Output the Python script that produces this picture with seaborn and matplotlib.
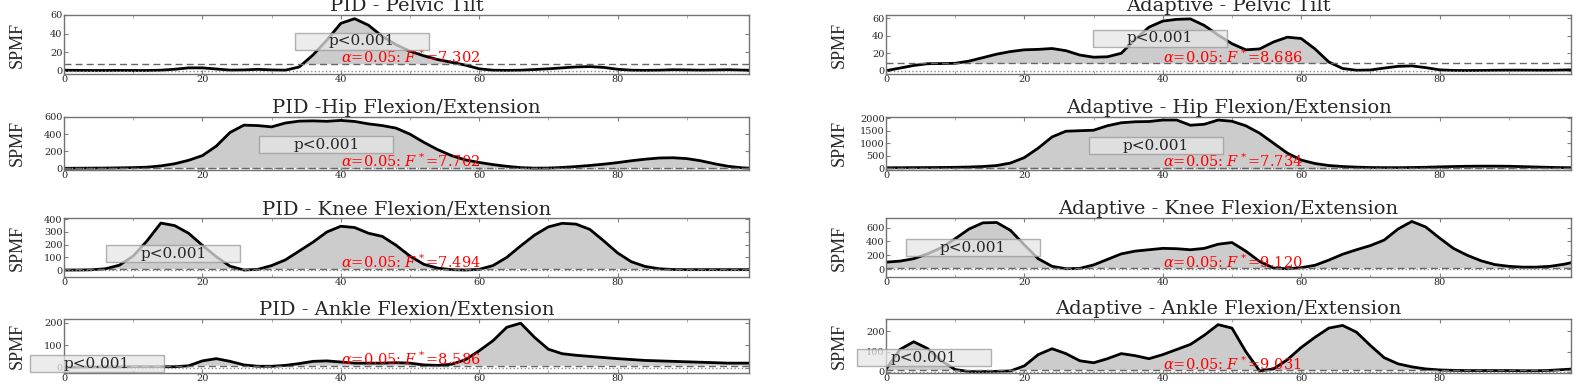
import numpy as np
import matplotlib
matplotlib.use("Agg")
import matplotlib.pyplot as plt
from matplotlib.patches import Rectangle
from matplotlib.transforms import ScaledTranslation
import seaborn as sns

# time axis (% gait cycle)
time = np.append(np.arange(0, 100, 2), 99)

# SPM{F} curves, PID controller
pid_pelvis = [0.5, 0.3, 0.2, 0.2, 0.3, 0.2, 0.2, 0.5, 1.5, 3.0, 3.0, 1.8, 0.6, 0.8, 1.4, 0.8, 0.5,
              4, 17, 33, 51, 56, 49, 37, 28, 21, 16, 12, 9, 6, 2, 0.5, 0.3, 0.5, 1.2, 2, 3, 4, 4.4,
              3.5, 1.5, 0.5, 0.3, 0.5, 1, 0.8, 0.5, 0.7, 1, 0.6, 0.5]
pid_hip = [2, 3, 4, 5, 7, 10, 15, 30, 55, 95, 150, 260, 420, 505, 500, 485, 530, 552, 555, 550,
           560, 548, 520, 500, 470, 400, 305, 220, 150, 100, 70, 45, 25, 10, 4, 5, 12, 22, 35, 50,
           68, 90, 108, 122, 125, 115, 90, 55, 25, 8, 4]
pid_knee = [0, 0, 2, 10, 38, 110, 230, 370, 350, 290, 195, 105, 30, 0, 5, 35, 80, 150, 220, 300,
            345, 335, 290, 265, 195, 110, 45, 15, 3, 0, 5, 35, 100, 190, 275, 340, 368, 362, 320,
            230, 135, 65, 28, 10, 4, 3, 3, 3, 3, 3, 3]
pid_ankle = [0, 2, 3, 3, 3, 4, 4, 4, 4, 8, 30, 40, 28, 12, 6, 6, 10, 18, 28, 30, 25, 20, 20, 20,
             22, 20, 12, 10, 15, 35, 75, 120, 180, 198, 135, 82, 62, 55, 50, 45, 40, 36, 32, 30,
             28, 26, 24, 22, 20, 20, 20]

# SPM{F} curves, adaptive controller
adaptive_pelvis = [0, 3, 6, 8, 8.2, 8.5, 11, 15, 19, 22, 24, 24.5, 25.5, 23, 18, 15.5, 16, 20, 36,
                   50, 57, 59, 59.5, 52, 41, 31, 24, 25, 33, 38.5, 37, 25, 10, 2.5, 0.5, 0.8, 3, 5,
                   5.5, 3.5, 1, 0.3, 0.2, 0.3, 0.5, 0.6, 0.6, 0.5, 0.5, 0.8, 1]
adaptive_hip = [10, 12, 15, 18, 22, 28, 40, 60, 100, 200, 420, 800, 1250, 1480, 1500, 1520, 1700,
                1820, 1860, 1870, 1930, 1930, 1720, 1760, 1930, 1880, 1700, 1400, 1000, 600, 320,
                180, 100, 60, 35, 20, 15, 15, 20, 30, 45, 60, 70, 75, 75, 70, 55, 40, 25, 15, 12]
adaptive_knee = [100, 115, 150, 220, 310, 440, 580, 670, 675, 560, 350, 150, 40, 5, 10, 60, 140,
                 220, 260, 280, 300, 295, 280, 300, 360, 385, 260, 110, 15, 5, 20, 55, 130, 215,
                 280, 340, 420, 580, 690, 610, 450, 300, 200, 120, 65, 40, 28, 28, 40, 70, 92]
adaptive_ankle = [13, 110, 148, 115, 55, 12, 2, 2, 3, 5, 30, 85, 114, 90, 55, 45, 65, 90, 80, 65,
                  85, 110, 135, 180, 232, 215, 100, 5, 15, 60, 120, 170, 215, 228, 195, 130, 70,
                  40, 25, 15, 10, 8, 7, 7, 7, 7, 6, 6, 8, 12, 14]

pid_curves = [pid_pelvis, pid_hip, pid_knee, pid_ankle]
adaptive_curves = [adaptive_pelvis, adaptive_hip, adaptive_knee, adaptive_ankle]

# critical thresholds F*
pid_thresholds = [7.302, 7.702, 7.494, 8.586]
adaptive_thresholds = [8.686, 7.734, 9.120, 9.031]

pid_titles = ["PID - Pelvic Tilt", "PID -Hip Flexion/Extension",
              "PID - Knee Flexion/Extension", "PID - Ankle Flexion/Extension"]
adaptive_titles = ["Adaptive - Pelvic Tilt", "Adaptive - Hip Flexion/Extension",
                   "Adaptive - Knee Flexion/Extension", "Adaptive - Ankle Flexion/Extension"]

pid_pvalues = ["p<0.001", "p<0.001", "p<0.001", "p<0.001"]
adaptive_pvalues = ["p<0.001", "p<0.001", "p<0.001", "p<0.001"]

# layout / cosmetic settings
pid_ylims = [(-3.6, 60), (-12, 600), (-55, 410), (-24, 219)]
adaptive_ylims = [(-3.8, 64), (-60, 2052), (-115, 740), (-5, 262)]
pid_yticks = [[0, 20, 40, 60], [0, 200, 400, 600], [0, 100, 200, 300, 400], [0, 100, 200]]
adaptive_yticks = [[0, 20, 40, 60], [0, 500, 1000, 1500, 2000], [0, 200, 400, 600], [0, 100, 200]]
pid_pbox = [(43, 31.5), (37.9, 275), (15.8, 129), (4.7, 17)]
adaptive_pbox = [(39.6, 37.5), (39, 900), (12.6, 307), (5.5, 69)]

sns.set_style("ticks")
plt.rcParams["font.family"] = ["DejaVu Serif"]
plt.rcParams["mathtext.fontset"] = "dejavuserif"

W, H = 1578, 387
fig = plt.figure(figsize=(W / 100, H / 100), dpi=100)

rows_px = [(15, 74), (117, 169.5), (218, 277), (318.5, 373)]
cols_px = [(64, 749), (886, 1571)]

columns = [
    (pid_curves, pid_thresholds, pid_titles, pid_pvalues, pid_ylims, pid_yticks, pid_pbox),
    (adaptive_curves, adaptive_thresholds, adaptive_titles, adaptive_pvalues,
     adaptive_ylims, adaptive_yticks, adaptive_pbox),
]

for c, (curves, thrs, titles, pvals, ylims, yticks, pboxes) in enumerate(columns):
    x0, x1 = cols_px[c]
    for r in range(4):
        top, bottom = rows_px[r]
        ax = fig.add_axes([x0 / W, 1 - bottom / H, (x1 - x0) / W, (bottom - top) / H])
        y = np.array(curves[r], dtype=float)
        thr = thrs[r]

        ax.fill_between(time, y, thr, where=y > thr, interpolate=True, color="0.8", lw=0)
        sns.lineplot(x=time, y=y, ax=ax, color="k", lw=2)
        ax.axhline(0, color="0.55", ls=":", lw=1)
        ax.axhline(thr, color="0.4", ls="--", lw=1, dashes=(5, 3))

        ax.text(40, thr + 0.01 * (ylims[r][1] - ylims[r][0]),
                r"$\alpha$=0.05: $F^*$=%.3f" % thr, color="red", fontsize=10.5,
                va="baseline", ha="left")

        # p-value label with a wide light-grey box (box size in inches, anchored at the label)
        px, py = pboxes[r]
        anchor = fig.dpi_scale_trans + ScaledTranslation(px, py, ax.transData)
        ax.add_patch(Rectangle((-0.67, -0.085), 1.34, 0.17, transform=anchor, clip_on=False,
                               facecolor="0.9", edgecolor="0.6", lw=1, alpha=0.75, zorder=4))
        ax.text(px, py, pvals[r], fontsize=11, ha="center", va="center", clip_on=False,
                zorder=5)

        ax.set_xlim(0, 99)
        ax.set_ylim(*ylims[r])
        ax.set_xticks([0, 20, 40, 60, 80])
        ax.set_xticks([10, 30, 50, 70, 90], minor=True)
        ax.set_yticks(yticks[r])
        ax.tick_params(direction="in", top=True, right=True, labelsize=7, length=3,
                       color="0.5", pad=1)
        ax.tick_params(which="minor", direction="in", top=True, length=2, color="0.6")
        for s in ax.spines.values():
            s.set_color("0.45")
            s.set_linewidth(1)
        ax.set_xlabel("")
        ax.set_ylabel("SPMF", fontsize=13, family="Liberation Serif")
        ax.yaxis.set_label_coords(-38 / (x1 - x0), 0.5)
        ax.set_title(titles[r], fontsize=14, pad=0)

fig.savefig("out.png", dpi=100)
